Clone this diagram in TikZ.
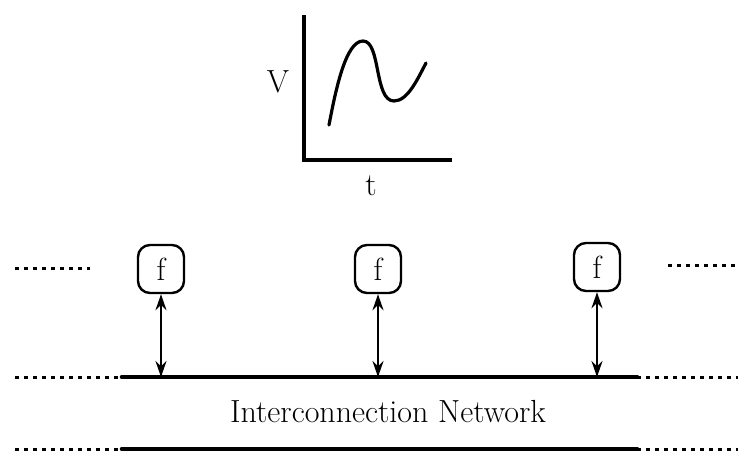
\documentclass[tikz,border=0pt]{standalone}
\usepackage{tikz}
\usetikzlibrary{positioning,arrows.meta}

\begin{document}
\begin{tikzpicture}[x=0.5pt, y=-0.5pt, font=\fontsize{16}{18}\selectfont,
  fbox/.style={draw, line width=1.2pt, rounded corners=6pt, minimum width=23pt,
               minimum height=24pt, inner sep=0pt},
  arr/.style={{Stealth[length=8pt,width=5.5pt]}-{Stealth[length=8pt,width=5.5pt]}, line width=1.1pt},
  bus/.style={line width=2.3pt, line cap=round},
  dots/.style={line width=1.5pt, dash pattern=on 2.2pt off 2.3pt}]
\useasboundingbox (0,0) rectangle (738,452);
% graph of the signal
\coordinate (origin) at (304,160);
\coordinate (ytop) at (304,15);
\coordinate (xend) at (452,160);
\draw[line width=1.6pt] (ytop) -- (origin) -- (xend);
\node (vlab) at (278,82) {V};
\node (tlab) at (371,186) {t};
\draw[line width=1.6pt, line cap=round] (329,125) .. controls (336,88) and (346,41) .. (363,41)
  .. controls (381,41) and (374,101) .. (394,101) .. controls (408,101) and (418,78) .. (426,63);
% processing elements
\node[fbox] (f1) at (161,269) {f};
\node[fbox] (f2) at (378,269) {f};
\node[fbox] (f3) at (597,267) {f};
% network
\coordinate (busTL) at (122,377);
\coordinate (busTR) at (637,377);
\coordinate (busBL) at (122,449);
\coordinate (busBR) at (637,449);
\draw[bus] (busTL) -- (busTR);
\draw[bus] (busBL) -- (busBR);
\node (net) at (388,412) {Interconnection Network};
\draw[arr] (f1) -- (f1 |- busTL);
\draw[arr] (f2) -- (f2 |- busTL);
\draw[arr] (f3) -- (f3 |- busTL);
% continuation dots
\coordinate (dTL) at (15,377);
\coordinate (dTR) at (738,377);
\coordinate (dBL) at (15,449);
\coordinate (dBR) at (738,449);
\draw[dots] (dTL) -- (busTL);
\draw[dots] (busTR) -- (dTR);
\draw[dots] (dBL) -- (busBL);
\draw[dots] (busBR) -- (dBR);
\coordinate (eL1) at (15,268);
\coordinate (eL2) at (90,268);
\coordinate (eR1) at (668,265);
\coordinate (eR2) at (738,265);
\draw[dots] (eL1) -- (eL2);
\draw[dots] (eR1) -- (eR2);
\end{tikzpicture}
\end{document}
